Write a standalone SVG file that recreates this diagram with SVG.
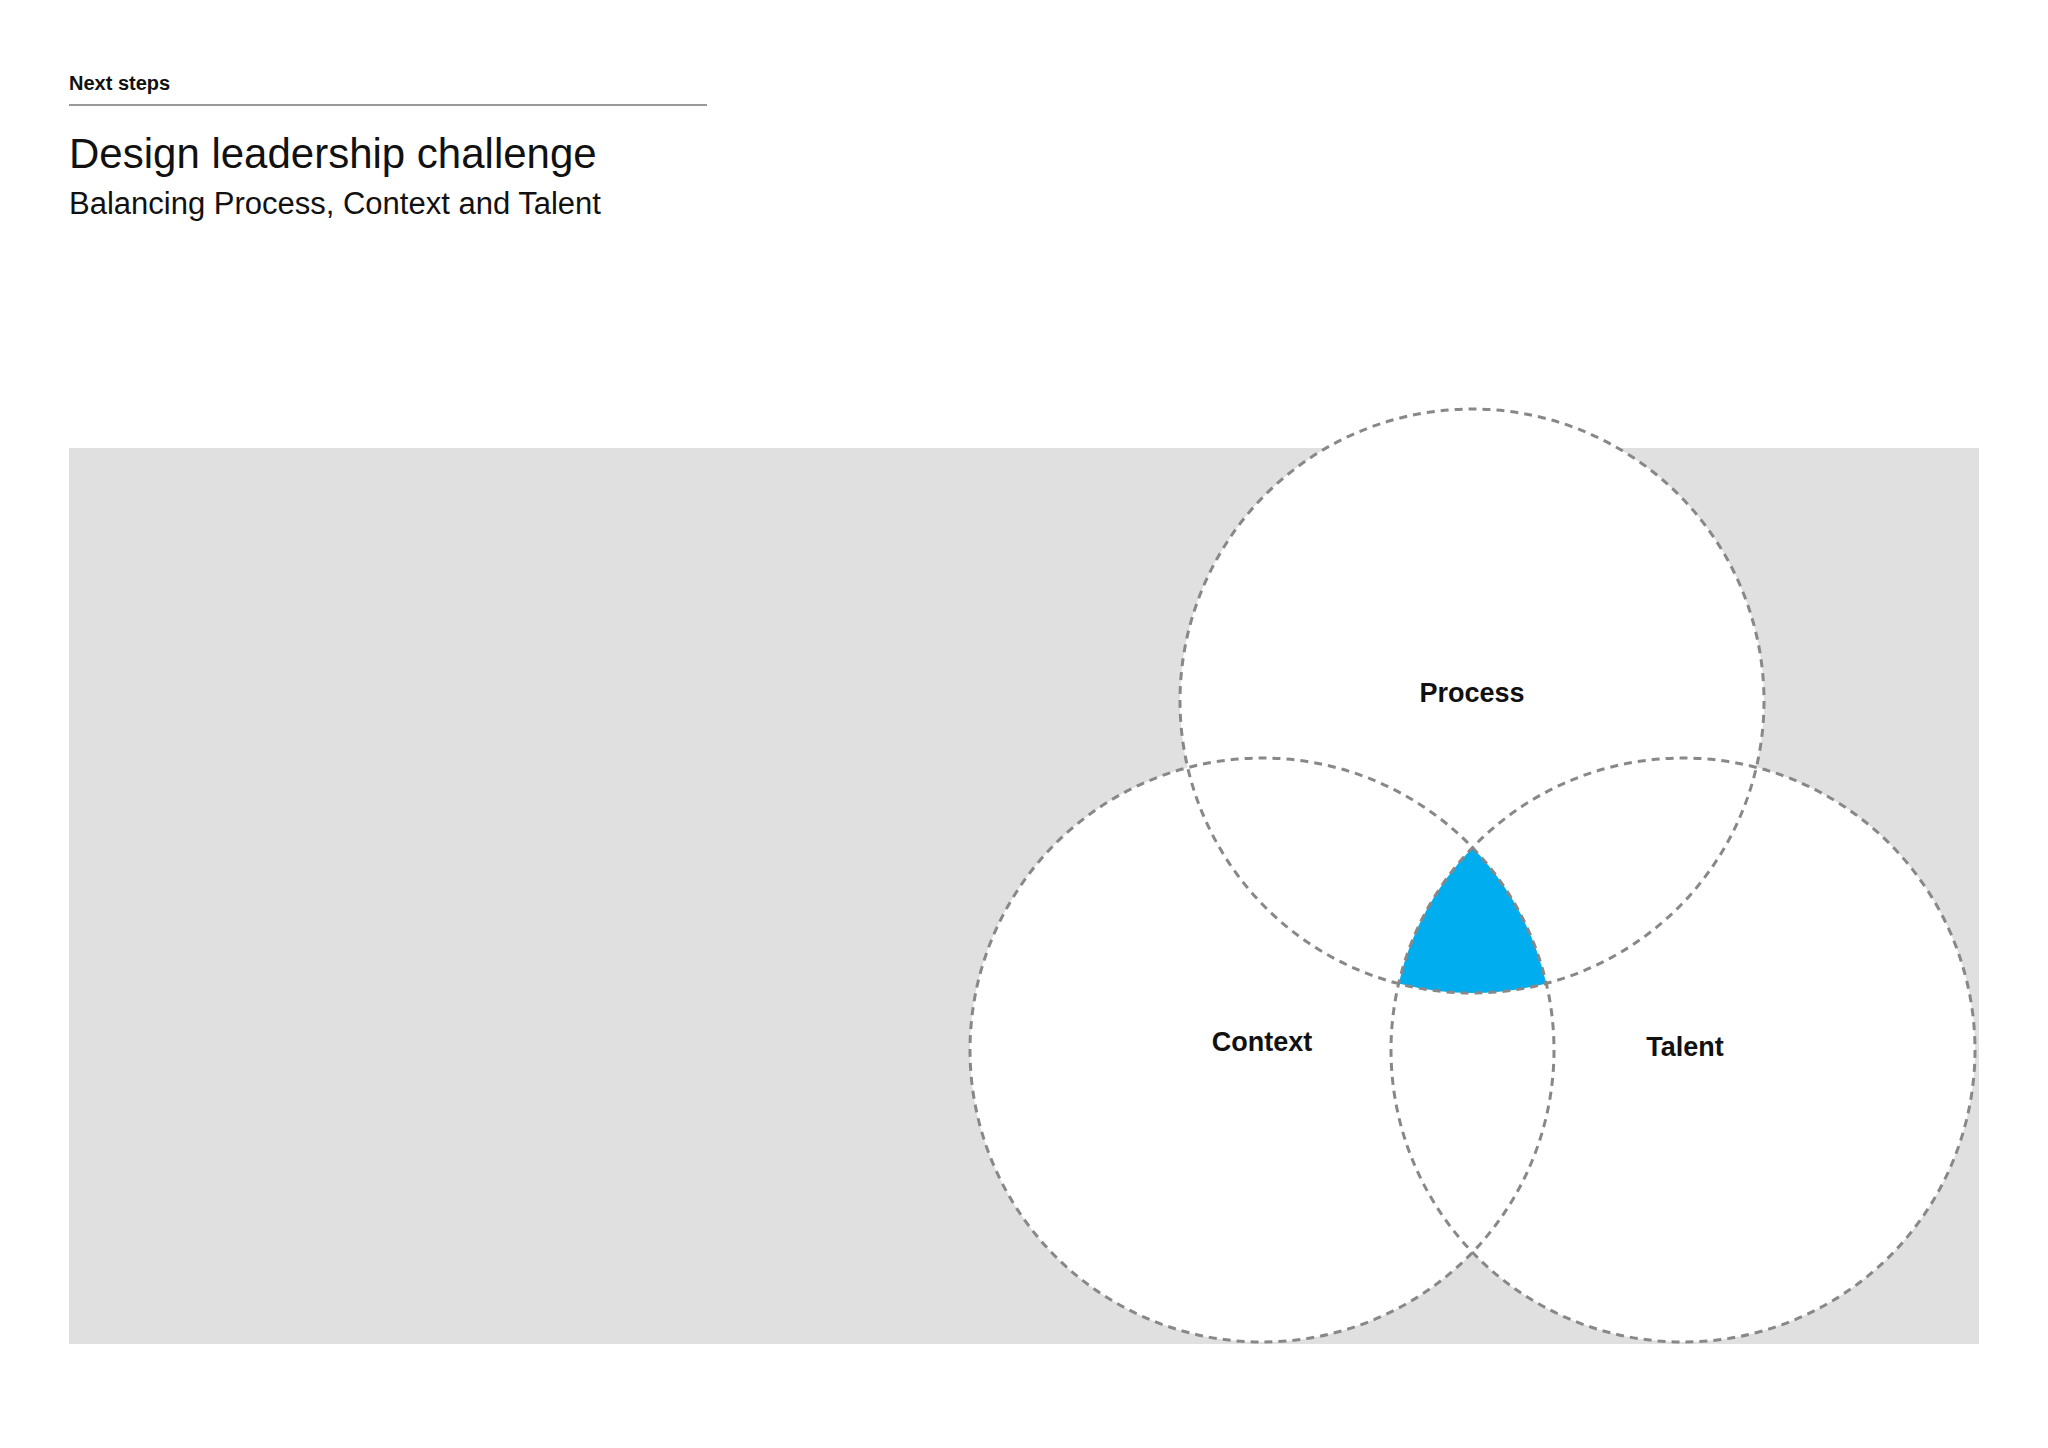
<svg xmlns="http://www.w3.org/2000/svg" width="2048" height="1448" viewBox="0 0 2048 1448">
<style>
.t{font-family:"Liberation Sans",Arial,sans-serif;fill:#111}
.lbl{font-family:"Liberation Sans",Arial,sans-serif;font-weight:bold;font-size:27px;text-anchor:middle;fill:#111}
.ring{fill:none;stroke:#888;stroke-width:3;stroke-dasharray:8 6}
</style>
<rect width="2048" height="1448" fill="#fff"/>
<text class="t" x="69" y="90" font-size="20" font-weight="bold">Next steps</text>
<line x1="69" y1="105" x2="707" y2="105" stroke="#777" stroke-width="1.5"/>
<text class="t" x="69" y="168" font-size="42">Design leadership challenge</text>
<text class="t" x="69" y="214" font-size="31" fill="#333">Balancing Process, Context and Talent</text>
<rect x="69" y="448" width="1910" height="896" fill="#e0e0e0"/>
<g fill="#fff">
<circle cx="1472" cy="701" r="292"/>
<circle cx="1262" cy="1050" r="292"/>
<circle cx="1683" cy="1050" r="292"/>
</g>
<path d="M1472.5,847.6 A292,292 0 0 1 1546.3,983.4 A292,292 0 0 1 1398.7,983.4 A292,292 0 0 1 1472.5,847.6 Z" fill="#00adef"/>
<g id="connectors"></g>
<g id="process"><circle class="ring" cx="1472" cy="701" r="292"/><text class="lbl" x="1472" y="702">Process</text></g>
<g id="context"><circle class="ring" cx="1262" cy="1050" r="292"/><text class="lbl" x="1262" y="1051">Context</text></g>
<g id="talent"><circle class="ring" cx="1683" cy="1050" r="292"/><text class="lbl" x="1685" y="1056">Talent</text></g>
</svg>
